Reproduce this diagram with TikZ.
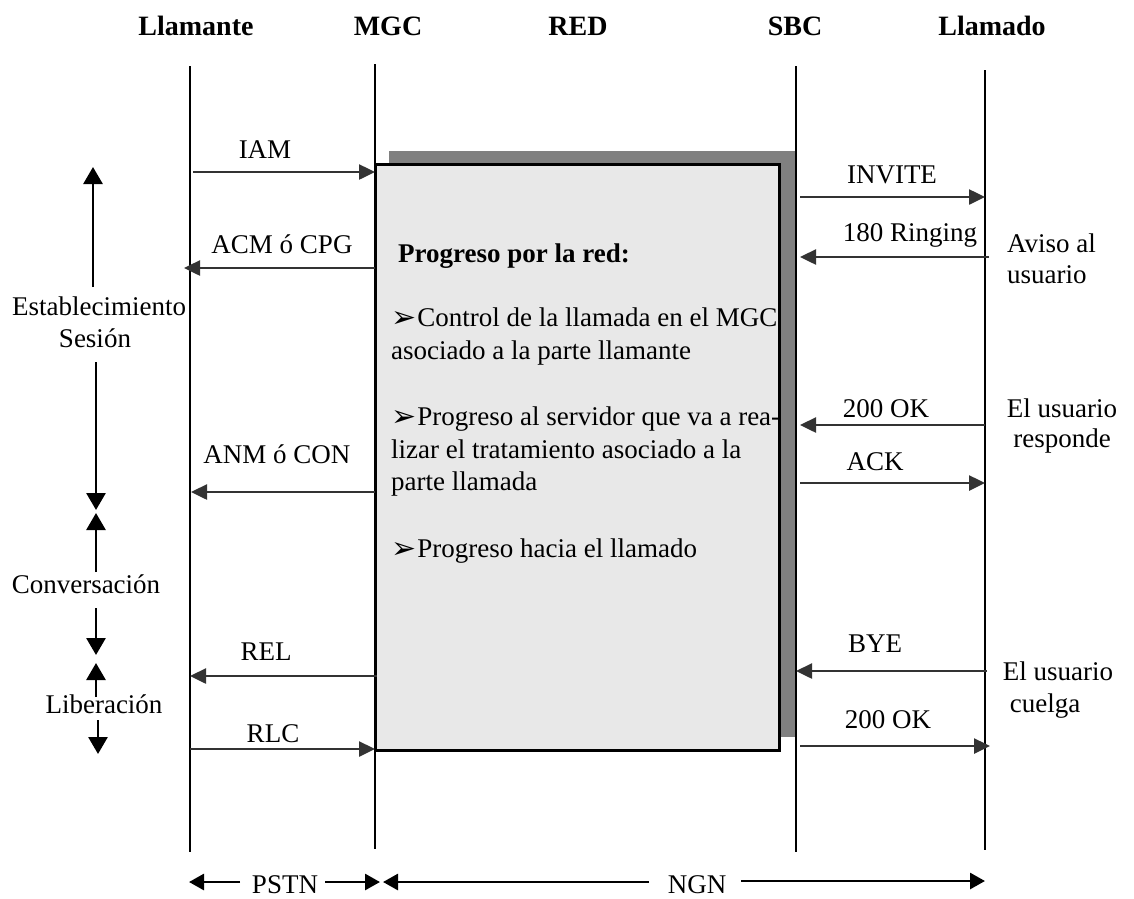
\documentclass[tikz,border=0pt]{standalone}
\usepackage{fontspec}
\setmainfont{Liberation Serif}
\newfontfamily\symfont{DejaVu Sans}
\usetikzlibrary{arrows.meta}
\definecolor{boxfill}{HTML}{E8E8E8}
\definecolor{shadowgray}{HTML}{808080}
\definecolor{msgline}{HTML}{333333}
\tikzset{
 lbl/.style={font=\fontsize{27}{32}\selectfont, inner sep=0pt, anchor=base},
 lblw/.style={font=\fontsize{27}{32}\selectfont, inner sep=0pt, anchor=base west},
 hdr/.style={font=\fontsize{28}{32}\selectfont\bfseries, inner sep=0pt, anchor=base},
 lifeline/.style={line width=2.2pt, black},
 msg/.style={line width=2.5pt, msgline, -{Triangle[length=16pt,width=15pt]}},
 phase/.style={line width=2.8pt, black, -{Triangle[length=17pt,width=19pt]}},
 spanarrow/.style={line width=2.8pt, black, -{Triangle[length=15pt,width=16pt]}},
}
\newcommand{\bul}{{\symfont\fontsize{30}{30}\selectfont\raisebox{-1pt}{➢}}\hspace{1pt}}
\begin{document}
\begin{tikzpicture}[x=1pt,y=-1pt]
\useasboundingbox (0,0) rectangle (1134,898);
% headers
\node[hdr] (hLlamante) at (196,35) {Llamante};
\node[hdr] (hMGC) at (388,35) {MGC};
\node[hdr] (hRED) at (578,35) {RED};
\node[hdr] (hSBC) at (795,35) {SBC};
\node[hdr] (hLlamado) at (992,35) {Llamado};
% lifelines
\coordinate (l1t) at (190,66); \coordinate (l1b) at (190,852);
\coordinate (l2t) at (375,64); \coordinate (l2b) at (375,849);
\coordinate (l3t) at (796,66); \coordinate (l3b) at (796,852);
\coordinate (l4t) at (985,70); \coordinate (l4b) at (985,850);
\draw[lifeline] (l1t) -- (l1b);
\draw[lifeline] (l2t) -- (l2b);
\draw[lifeline] (l3t) -- (l3b);
\draw[lifeline] (l4t) -- (l4b);
% shadow and box
\fill[shadowgray] (389,151) rectangle (795,737);
\node[draw=black, line width=3pt, fill=boxfill, minimum width=404pt, minimum height=586pt, anchor=north west, inner sep=0pt, outer sep=0pt] (box) at (375,164) {};
% box text
\node[lblw] (bt1) at (398,262) {\textbf{Progreso por la red:}};
\node[lblw] (bt2) at (391,326) {\bul Control de la llamada en el MGC};
\node[lblw] (bt3) at (391,359) {asociado a la parte llamante};
\node[lblw] (bt4) at (391,425) {\bul Progreso al servidor que va a rea-};
\node[lblw] (bt5) at (391,458) {lizar el tratamiento asociado a la};
\node[lblw] (bt6) at (391,490) {parte llamada};
\node[lblw] (bt7) at (391,557) {\bul Progreso hacia el llamado};
% left messages
\coordinate (iamA) at (193,172); \coordinate (iamB) at (375,172);
\coordinate (acmA) at (375,268); \coordinate (acmB) at (184,268);
\coordinate (anmA) at (375,492); \coordinate (anmB) at (191,492);
\coordinate (relA) at (377,676); \coordinate (relB) at (190,676);
\coordinate (rlcA) at (190,749); \coordinate (rlcB) at (375,749);
\draw[msg] (iamA) -- (iamB);
\draw[msg] (acmA) -- (acmB);
\draw[msg] (anmA) -- (anmB);
\draw[msg] (relA) -- (relB);
\draw[msg] (rlcA) -- (rlcB);
\node[lbl] (tIAM) at (265,158) {IAM};
\node[lbl] (tACM) at (282,253) {ACM ó CPG};
\node[lbl] (tANM) at (277,463) {ANM ó CON};
\node[lbl] (tREL) at (266,660) {REL};
\node[lbl] (tRLC) at (273,742) {RLC};
% right messages
\coordinate (invA) at (800,197); \coordinate (invB) at (985,197);
\coordinate (rinA) at (989,257); \coordinate (rinB) at (800,257);
\coordinate (okaA) at (985,425); \coordinate (okaB) at (800,425);
\coordinate (ackA) at (800,483); \coordinate (ackB) at (985,483);
\coordinate (byeA) at (987,671); \coordinate (byeB) at (796,671);
\coordinate (okbA) at (800,746); \coordinate (okbB) at (990,746);
\draw[msg] (invA) -- (invB);
\draw[msg] (rinA) -- (rinB);
\draw[msg] (okaA) -- (okaB);
\draw[msg] (ackA) -- (ackB);
\draw[msg] (byeA) -- (byeB);
\draw[msg] (okbA) -- (okbB);
\node[lbl] (tINV) at (892,183) {INVITE};
\node[lbl] (tRIN) at (910,241) {180 Ringing};
\node[lbl] (tOKA) at (886,417) {200 OK};
\node[lbl] (tACK) at (875,470) {ACK};
\node[lbl] (tBYE) at (875,652) {BYE};
\node[lbl] (tOKB) at (888,728) {200 OK};
% right notes
\node[lblw] (nAv1) at (1007,252) {Aviso al};
\node[lblw] (nAv2) at (1007,283) {usuario};
\node[lbl] (nRe1) at (1062,417) {El usuario};
\node[lbl] (nRe2) at (1062,447) {responde};
\node[lbl] (nCu1) at (1058,680) {El usuario};
\node[lbl] (nCu2) at (1045,712) {cuelga};
% phases
\node[lbl] (pE1) at (99,315) {Establecimiento};
\node[lbl] (pE2) at (95,347) {Sesión};
\node[lbl] (pC) at (86,593) {Conversación};
\node[lbl] (pL) at (104,713) {Liberación};
\coordinate (e1a) at (93,287); \coordinate (e1b) at (93,167);
\coordinate (e2a) at (96,362); \coordinate (e2b) at (96,510);
\coordinate (c1a) at (96,572); \coordinate (c1b) at (96,513);
\coordinate (c2a) at (96,608); \coordinate (c2b) at (96,655);
\coordinate (r1a) at (96,697); \coordinate (r1b) at (96,663);
\coordinate (r2a) at (98,720); \coordinate (r2b) at (98,754);
\draw[phase] (e1a) -- (e1b);
\draw[phase] (e2a) -- (e2b);
\draw[phase] (c1a) -- (c1b);
\draw[phase] (c2a) -- (c2b);
\draw[phase] (r1a) -- (r1b);
\draw[phase] (r2a) -- (r2b);
% bottom spans
\node[lbl] (tPSTN) at (285,893) {PSTN};
\node[lbl] (tNGN) at (697,893) {NGN};
\coordinate (p1a) at (240,882); \coordinate (p1b) at (189,882);
\coordinate (p2a) at (325,882); \coordinate (p2b) at (380,882);
\coordinate (n1a) at (649,882); \coordinate (n1b) at (383,882);
\coordinate (n2a) at (741,881); \coordinate (n2b) at (985,881);
\draw[spanarrow] (p1a) -- (p1b);
\draw[spanarrow] (p2a) -- (p2b);
\draw[spanarrow] (n1a) -- (n1b);
\draw[spanarrow] (n2a) -- (n2b);
\end{tikzpicture}
\end{document}
